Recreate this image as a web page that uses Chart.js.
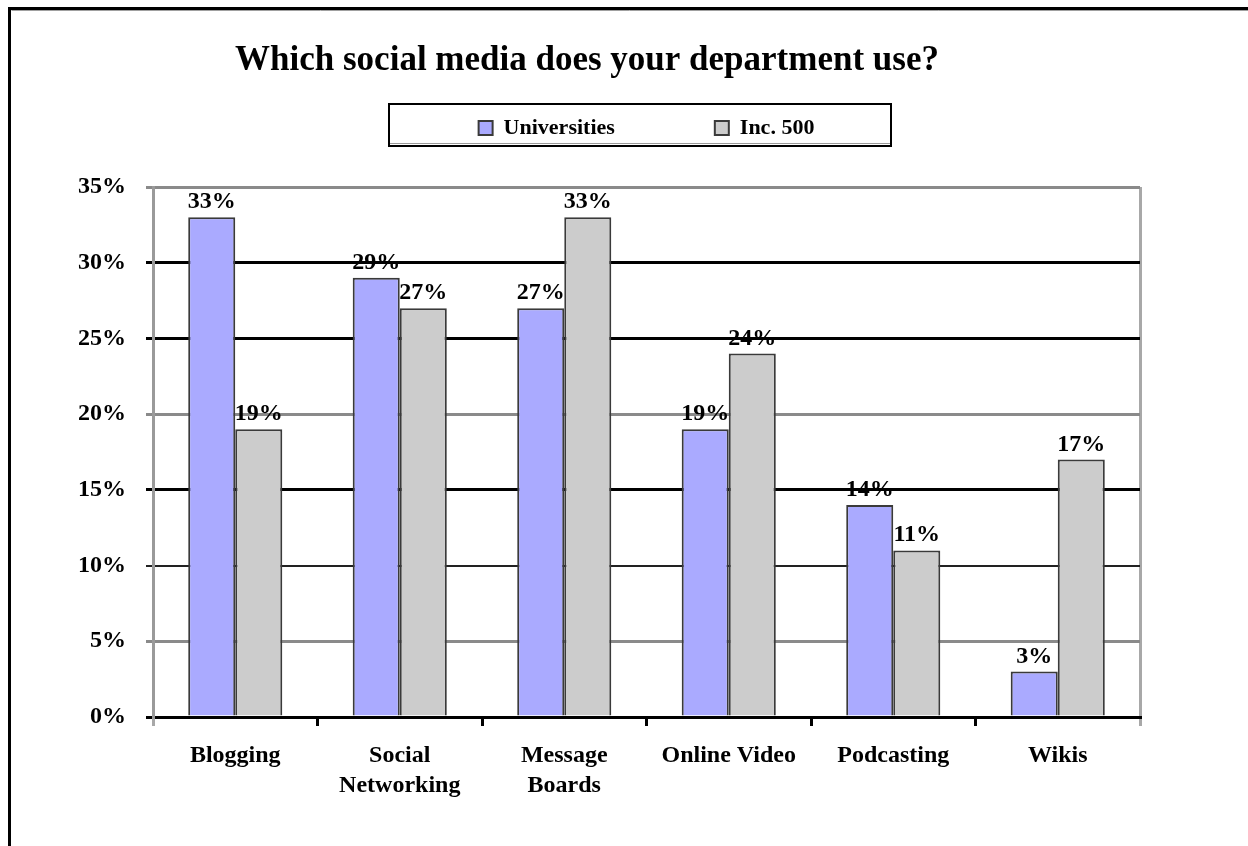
<!DOCTYPE html>
<html>
<head>
<meta charset="utf-8">
<title>Which social media does your department use?</title>
<script src="https://cdn.jsdelivr.net/npm/chart.js@4.4.1/dist/chart.umd.min.js"></script>
<style>
  html, body { margin: 0; padding: 0; background: #ffffff; }
  #wrap { width: 1248px; height: 846px; }
</style>
</head>
<body>
<div id="wrap"><canvas id="chart" width="1248" height="846"></canvas></div>
<script>
// ---- data ----
const categories = ['Blogging', ['Social', 'Networking'], ['Message', 'Boards'], 'Online Video', 'Podcasting', 'Wikis'];
const seriesNames = ['Universities', 'Inc. 500'];
const universities = [33, 29, 27, 19, 14, 3];
const inc500 = [19, 27, 33, 24, 11, 17];
const yTicks = [0, 5, 10, 15, 20, 25, 30, 35];
const chartTitle = 'Which social media does your department use?';

// ---- styling ----
const SERIF = '"Liberation Serif", "Times New Roman", Times, serif';
const blackRules = [0, 15, 25, 30];   // gridlines ruled in solid black
const darkRules = [10];               // thinner dark rule
const GRAY = '#8a8a8a';

function ruleColor(v) {
  if (blackRules.includes(v)) return '#000000';
  if (darkRules.includes(v)) return '#222222';
  return GRAY;
}
function ruleWidth(v) {
  if (darkRules.includes(v)) return 2;
  return 3;
}

// white page, outer frame, heading and the frame around the legend
const decorations = {
  id: 'decorations',
  beforeDraw(chart) {
    const ctx = chart.ctx;
    ctx.save();
    ctx.fillStyle = '#ffffff';
    ctx.fillRect(0, 0, chart.width, chart.height);

    // outer frame (runs past the right and bottom edges)
    ctx.strokeStyle = '#000000';
    ctx.lineWidth = 3;
    ctx.strokeRect(9.5, 8.5, 1400, 1000);
    ctx.strokeStyle = '#a0a0a0';
    ctx.lineWidth = 1;
    ctx.beginPath();
    ctx.moveTo(11.5, 10.5); ctx.lineTo(1248, 10.5);
    ctx.stroke();

    // heading
    ctx.fillStyle = '#000000';
    ctx.font = 'bold 35px ' + SERIF;
    ctx.textAlign = 'center';
    ctx.textBaseline = 'alphabetic';
    ctx.fillText(chartTitle, 587, 70);

    // legend frame
    ctx.strokeStyle = '#000000';
    ctx.lineWidth = 2;
    ctx.strokeRect(389, 104, 502, 42);
    ctx.strokeStyle = '#9a9a9a';
    ctx.lineWidth = 1;
    ctx.beginPath();
    ctx.moveTo(390, 143.5); ctx.lineTo(890, 143.5);
    ctx.stroke();
    ctx.restore();
  }
};

// percentage written above every bar
const valueLabels = {
  id: 'valueLabels',
  afterDatasetsDraw(chart) {
    const ctx = chart.ctx;
    ctx.save();
    ctx.fillStyle = '#000000';
    ctx.font = 'bold 24px ' + SERIF;
    ctx.textAlign = 'center';
    ctx.textBaseline = 'alphabetic';
    chart.data.datasets.forEach((ds, di) => {
      const meta = chart.getDatasetMeta(di);
      meta.data.forEach((bar, i) => {
        ctx.fillText(ds.data[i] + '%', bar.x, bar.y - 9);
      });
    });
    ctx.restore();
  }
};

new Chart(document.getElementById('chart'), {
  type: 'bar',
  data: {
    labels: categories,
    datasets: [
      {
        label: seriesNames[0],
        data: universities,
        backgroundColor: '#aaaaff',
        borderColor: '#3a3a3a',
        borderWidth: 2
      },
      {
        label: seriesNames[1],
        data: inc500,
        backgroundColor: '#cccccc',
        borderColor: '#3a3a3a',
        borderWidth: 2
      }
    ]
  },
  options: {
    responsive: false,
    animation: false,
    events: [],
    layout: { padding: { left: 78, right: 108, top: 17, bottom: 0 } },
    datasets: {
      bar: { categoryPercentage: 0.572, barPercentage: 1.0 }
    },
    plugins: {
      title: { display: false },
      // empty spacer between the legend and the plot
      subtitle: {
        display: true,
        text: '',
        weight: 500,
        font: { size: 1, lineHeight: 1 },
        padding: { top: 0, bottom: 37 }
      },
      legend: {
        display: true,
        position: 'top',
        align: 'center',
        fullSize: false,
        labels: {
          color: '#000000',
          font: { family: SERIF, size: 22, weight: 'bold' },
          boxWidth: 14,
          boxHeight: 14,
          padding: 100
        }
      },
      tooltip: { enabled: false }
    },
    scales: {
      x: {
        afterFit(scale) { scale.height = 129; },
        grid: {
          offset: true,
          drawOnChartArea: true,
          drawTicks: true,
          tickLength: 9,
          lineWidth: 3,
          tickWidth: 3,
          color(ctx) {
            // only the right-hand edge of the plot is ruled
            return ctx.type === 'tick' ? 'rgba(0,0,0,0)' : '#a8a8a8';
          },
          tickColor(ctx) {
            if (ctx.type !== 'tick' || ctx.index === 0) return '#a8a8a8';
            return '#000000';
          }
        },
        border: { display: true, color: '#000000', width: 3 },
        ticks: {
          color: '#000000',
          font: { family: SERIF, size: 24, weight: 'bold', lineHeight: 1.25 },
          padding: 15,
          maxRotation: 0,
          autoSkip: false
        }
      },
      y: {
        min: yTicks[0],
        max: yTicks[yTicks.length - 1],
        afterFit(scale) { scale.width = 75; },
        grid: {
          drawTicks: true,
          tickLength: 7,
          color(ctx) { return ruleColor(ctx.tick.value); },
          lineWidth(ctx) { return ruleWidth(ctx.tick.value); },
          tickColor(ctx) { return ruleColor(ctx.tick.value); },
          tickWidth(ctx) { return ruleWidth(ctx.tick.value); }
        },
        border: { display: true, color: '#9a9a9a', width: 3 },
        ticks: {
          stepSize: yTicks[1] - yTicks[0],
          autoSkip: false,
          color: '#000000',
          font: { family: SERIF, size: 24, weight: 'bold' },
          padding: 20,
          callback: v => v + '%'
        }
      }
    }
  },
  plugins: [decorations, valueLabels]
});
</script>
</body>
</html>
